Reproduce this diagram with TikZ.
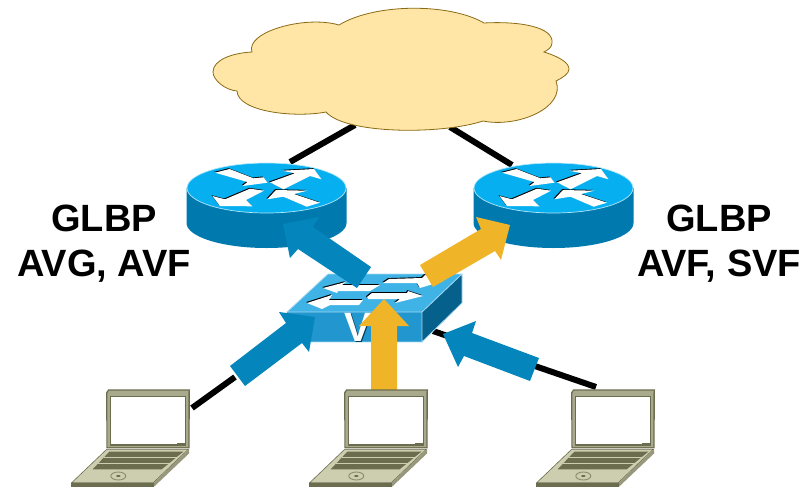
\documentclass[tikz,border=0pt]{standalone}
\usepackage{fontspec}
\setmainfont{Liberation Sans}
\definecolor{cloudfill}{HTML}{FFE6A6}
\definecolor{cloudline}{HTML}{8A6A14}
\definecolor{rtop}{HTML}{06B0F0}
\definecolor{rside}{HTML}{0079AE}
\definecolor{arrowblue}{HTML}{0485BB}
\definecolor{arrowgold}{HTML}{F0B428}
\definecolor{swtop}{HTML}{3FB2E6}
\definecolor{swfront}{HTML}{2196CF}
\definecolor{swside}{HTML}{06608C}
\definecolor{swedge}{HTML}{A6D9F0}
\definecolor{lapbase}{HTML}{CDCDB0}
\definecolor{lapframe}{HTML}{A9A98E}
\definecolor{lapdark}{HTML}{6C6C4E}
\tikzset{
  x=1pt,y=-1pt,
  wire/.style={line width=6pt,black},
  bigblue/.style={fill=arrowblue},
  biggold/.style={fill=arrowgold},
  wtarrow/.style={fill=white},
  shadowarrow/.style={fill=black},
  lbl/.style={font=\fontsize{38}{45}\selectfont\bfseries,align=center,inner sep=0pt},
  pics/router/.style={code={
    \fill[rside] (-80,0) -- (-80,35) arc[x radius=80,y radius=25,start angle=180,end angle=0] -- (80,0) -- cycle;
    \fill[rtop,draw=white!70!rtop,line width=.7pt] (0,0) ellipse[x radius=79.5,y radius=25];
    \foreach \dx/\dy/\st in {-.9/-.8/shadowarrow,0/0/wtarrow}{
      \begin{scope}[shift={(\dx,\dy)}]
      \fill[\st] (-51.5,-15.3)--(-37,-19)--(-13,-9.7)--(-3,-10.7)--(1,-5.3)--(-24,-2)--(-19,-6)--cycle;
      \fill[\st] (3.5,-5.7)--(28.5,-14.7)--(15.8,-17.3)--(47.5,-19)--(55,-8.7)--(43.5,-12)--(17,1.3)--cycle;
      \fill[\st] (-2.5,2.7)--(-16.5,.7)--(-41.5,11.3)--(-54,8)--(-46.5,18)--(-14,18.3)--(-20.5,12)--cycle;
      \fill[\st] (.8,11.3)--(9.5,2)--(40.8,2.7)--(27.5,6)--(53.5,14.7)--(40.2,18.7)--(16.8,8.7)--cycle;
      \end{scope}}
  }},
  pics/laptop/.style={code={
    \fill[lapdark] (36,12.7)--(38.3,9.3)--(120,9.3)--(119.5,68.3)--(36.5,68.3)--cycle;
    \fill[lapframe] (37.3,13.5)--(39,10.5)--(118.5,10.5)--(118.3,67)--(37.5,67)--cycle;
    \fill[lapdark] (40,15.5)--(116,15.5)--(116,65.5)--(40,65.5)--cycle;
    \fill[white] (41,16.7)--(115,16.7)--(115,64.3)--(41,64.3)--cycle;
    \fill[lapdark] (107,62.5)--(115,62.5)--(115,64.5)--(107,64.5)--cycle;
    \fill[lapdark] (1,102.7)--(84,102.7)--(84,106.7)--(1,106.7)--cycle;
    \fill[lapframe!70!lapdark] (84,106.7)--(119,73.5)--(119,69.3)--(84,102.7)--cycle;
    \fill[lapbase,draw=lapdark,line width=.6pt] (36.7,69.3)--(118.3,69.3)--(83.3,102.7)--(1.7,102.7)--cycle;
    \fill[lapdark] (39.3,71.7)--(113.3,71.7)--(91.7,89.3)--(22.7,89.3)--cycle;
    \draw[lapbase,line width=.8pt] (33.5,77)--(107,77) (27.5,83)--(100,83);
    \draw[lapdark!70!lapbase,line width=.9pt] (48.3,96) ellipse[x radius=7.5,y radius=4];
    \fill[lapdark] (48.3,96) ellipse[x radius=2.2,y radius=1];
  }}
}
\begin{document}
\begin{tikzpicture}
\useasboundingbox (0,0) rectangle (809,488);
% anchors for connectors
\coordinate (cloudL) at (355,125);
\coordinate (cloudR) at (450,127);
\coordinate (routerL) at (290,162);
\coordinate (routerR) at (512,165);
\coordinate (switchR) at (433,331);
\coordinate (lapL) at (192,408);
\coordinate (lapR) at (596,387);
\coordinate (lineLend) at (235,377);
% wires
\draw[wire] (cloudL) -- (routerL);
\draw[wire] (cloudR) -- (routerR);
\draw[wire] (lapL) -- (lineLend);
\draw[wire] (switchR) -- (lapR);
% cloud
\filldraw[fill=cloudfill,draw=cloudline,line width=.8pt]
  (339,25) .. controls (375,3) and (450,3) .. (484,23)
  .. controls (520,21) and (554,27) .. (552,43)
  .. controls (552,47) and (548,50) .. (544,52)
  .. controls (560,57) and (569,63) .. (569,69)
  .. controls (569,74) and (562,78) .. (556,81)
  .. controls (566,108) and (517,128) .. (483,121)
  .. controls (440,135) and (345,134) .. (326,112)
  .. controls (295,118) and (238,112) .. (237,91)
  .. controls (225,90) and (213,80) .. (213,72)
  .. controls (213,60) and (232,53) .. (252,52)
  .. controls (245,32) and (305,15) .. (339,25) -- cycle;
% routers
\pic (r1) at (266.5,188) {router};
\pic (r2) at (553.5,188) {router};
% switch
\fill[swfront] (287,312) rectangle (422,342);
\fill[swside] (422,312)--(462,274)--(462,303)--(422,342)--cycle;
\fill[swtop] (328,274)--(462,274)--(422,312)--(287,312)--cycle;
\draw[swedge,line width=.8pt] (287,312)--(328,274)--(462,274)--(422,312)--cycle (422,312)--(422,342)--(462,303)--(462,274) (422,342)--(287,342);
\foreach \dx/\dy/\st in {-.9/-.9/shadowarrow,0/0/wtarrow}{
\begin{scope}[shift={(\dx,\dy)}]
 \fill[\st] (323,288)--(346,282)--(342,285)--(380,285)--(370,291)--(338,291)--(337,293)--cycle;
 \fill[\st] (383,283)--(389,279)--(422,278)--(425,275)--(443,281)--(420,288)--(417,283)--cycle;
 \fill[\st] (307,303)--(332,295)--(329,300)--(363,300)--(359,305)--(330,305)--(322,309)--cycle;
 \fill[\st] (367,297)--(372,293)--(407,293)--(408,291)--(423,296)--(395,303)--(400,299)--(368,299)--cycle;
\end{scope}}
\node[inner sep=0pt,text=swside!60!black,font=\fontsize{41}{41}\selectfont\bfseries] (vlabelshadow) at (359,328) {V};
\node[inner sep=0pt,text=white,font=\fontsize{41}{41}\selectfont\bfseries] (vlabel) at (358,327.5) {V};
% big arrows
\fill[bigblue] (283,224)--(319,217)--(313,227)--(371,267)--(357,288)--(298,249)--(290,258)--cycle;
\fill[biggold] (510,225)--(476,217)--(481,229)--(420,265)--(433,287)--(495,251)--(501,260)--cycle;
\fill[bigblue] (315,317)--(279,312)--(286,323)--(230,366)--(245,386)--(302,343)--(309,352)--cycle;
\fill[biggold] (384,299)--(409,326)--(397,326)--(397,390)--(371,390)--(371,326)--(359,326)--cycle;
\fill[bigblue] (443,334)--(476,321)--(472,333)--(539,358)--(530,381)--(464,356)--(458,367)--cycle;
% laptops
\pic (l1) at (70,380) {laptop};
\pic (l2) at (308,380) {laptop};
\pic (l3) at (535,380) {laptop};
% labels
\node[lbl] (textL) at (104,243.5) {GLBP\\AVG, AVF};
\node[lbl] (textR) at (719,243.5) {GLBP\\AVF, SVF};
\end{tikzpicture}
\end{document}
